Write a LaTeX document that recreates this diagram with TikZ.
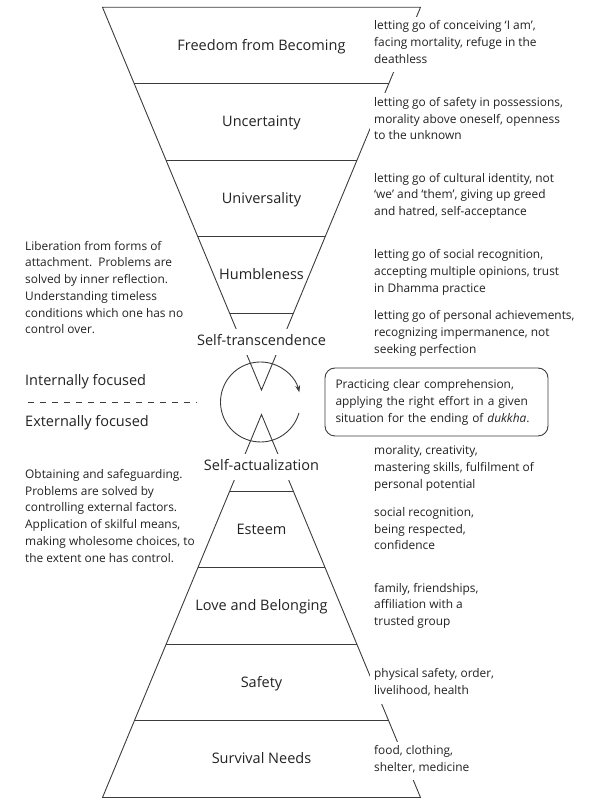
\documentclass[tikz,border=0pt]{standalone}
\usepackage{fontspec}
\setmainfont{Open Sans}
\usetikzlibrary{calc,arrows.meta}
\definecolor{ln}{RGB}{60,60,60}
\definecolor{tx}{RGB}{34,34,34}
\begin{document}
\begin{tikzpicture}[x=1bp,y=1bp,
  shapeline/.style={draw=ln, line width=0.9bp},
  big/.style={font=\fontsize{14.5bp}{17bp}\selectfont, text=tx, text height=10.6bp, text depth=3.6bp, inner xsep=2bp, inner ysep=6bp},
  small/.style={font=\fontsize{11.9bp}{16.7bp}\selectfont, text=tx, align=left, execute at begin node=\strut, execute at end node=\strut},
  note/.style={small, anchor=west, fill=white, inner xsep=4bp, inner ysep=4bp},
  side/.style={small, anchor=west, inner sep=0pt},
]
\useasboundingbox (0,0) rectangle (593,810);

% funnel (inverted triangle) and pyramid
\coordinate (fTL) at (102.5,802.7);
\coordinate (fTR) at (420.5,802.7);
\coordinate (fA)  at (261.5,420);
\coordinate (pBL) at (102.5,12.5);
\coordinate (pBR) at (420.5,12.5);
\coordinate (pA)  at (261.5,395.5);
\draw[shapeline] (fTL) -- (fTR) -- (fA) -- cycle;
\draw[shapeline] (pBL) -- (pBR) -- (pA) -- cycle;
\foreach \f in {0.2,0.4,0.6,0.8} {
  \draw[shapeline] ($(fTL)!\f!(fA)$) -- ($(fTR)!\f!(fA)$);
  \draw[shapeline] ($(pBL)!\f!(pA)$) -- ($(pBR)!\f!(pA)$);
}

% level labels
\node[big] (freedom) at (261.5,763.2) {Freedom from Becoming};
\node[big] (uncert)  at (261.5,686.9) {Uncertainty};
\node[big] (univ)    at (261.5,610.2) {Universality};
\node[big] (humble)  at (261.5,533.5) {Humbleness};
\node[big, fill=white] (strans) at (261.5,468.3) {Self-transcendence};
\node[big, fill=white] (sact)   at (261.5,343.3) {Self-actualization};
\node[big] (esteem)  at (261.5,279.2) {Esteem};
\node[big] (love)    at (261.5,202.7) {Love and Belonging};
\node[big] (safety)  at (261.5,126.2) {Safety};
\node[big] (surv)    at (261.5,49.5) {Survival Needs};

% cycle
\coordinate (cc) at (260.5,408);
\draw[shapeline, -{Stealth[length=7bp,width=5bp]}] ($(cc)+(-16:40)$) arc[start angle=-16, end angle=-346, radius=40];

% focus division
\node[big, anchor=west] (intf) at (23,428.3) {Internally focused};
\node[big, anchor=west] (extf) at (23,386.6) {Externally focused};
\coordinate (dl) at (28,407.7);
\coordinate (dr) at (197,407.7);
\draw[shapeline, dash pattern=on 6bp off 6bp] (dl) -- (dr);

% side descriptions
\node[side] (lib) at (25,520) {Liberation from forms of\\ attachment.\ \ Problems are\\ solved by inner reflection.\\ Understanding timeless\\ conditions which one has no\\ control over.};
\node[side] (obt) at (25,291.7) {Obtaining and safeguarding.\\ Problems are solved by\\ controlling external factors.\\ Application of skilful means,\\ making wholesome choices, to\\ the extent one has control.};

% practice box
\node[small, draw=ln, line width=0.9bp, rounded corners=10bp, text width=202bp, minimum width=223bp, minimum height=68bp, inner xsep=10.5bp] (box) at (436.5,408) {Practicing clear comprehension,\\ applying the right effort in a given\\ situation for the ending of \textit{dukkha}.};

% right notes
\node[note] (t1) at (370,765.7) {letting go of conceiving ‘I am’,\\ facing mortality, refuge in the\\ deathless};
\node[note] (t2) at (370,689) {letting go of safety in possessions,\\ morality above oneself, openness\\ to the unknown};
\node[note] (t3) at (370,613.3) {letting go of cultural identity, not\\ ‘we’ and ‘them’, giving up greed\\ and hatred, self-acceptance};
\node[note] (t4) at (370,536.7) {letting go of social recognition,\\ accepting multiple opinions, trust\\ in Dhamma practice};
\node[note] (t5) at (370,475.7) {letting go of personal achievements,\\ recognizing impermanence, not\\ seeking perfection};
\node[note] (t6) at (370,340.7) {morality, creativity,\\ mastering skills, fulfilment of\\ personal potential};
\node[note] (t7) at (370,279) {social recognition,\\ being respected,\\ confidence};
\node[note] (t8) at (370,203.3) {family, friendships,\\ affiliation with a\\ trusted group};
\node[note] (t9) at (370,125.7) {physical safety, order,\\ livelihood, health};
\node[note] (t10) at (370,49) {food, clothing,\\ shelter, medicine};
\end{tikzpicture}
\end{document}
